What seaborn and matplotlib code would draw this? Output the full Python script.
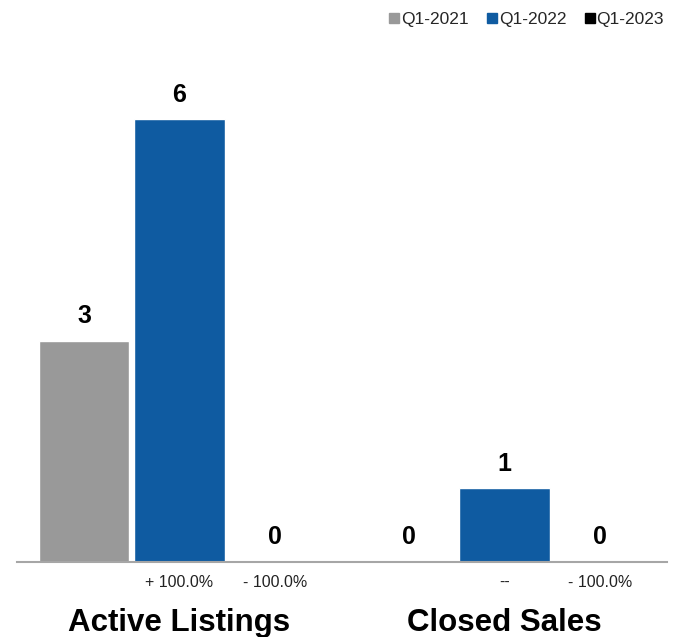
import matplotlib
matplotlib.use("Agg")
import matplotlib.pyplot as plt
import seaborn as sns
import pandas as pd
from matplotlib.lines import Line2D

# Quarterly counts per metric
categories = ["Active Listings", "Closed Sales"]
periods = ["Q1-2021", "Q1-2022", "Q1-2023"]
q1_2021 = [3, 0]
q1_2022 = [6, 1]
q1_2023 = [0, 0]
# Year-over-year change labels shown under the later periods
change_2022 = ["+ 100.0%", "--"]
change_2023 = ["- 100.0%", "- 100.0%"]

colors = ["#999999", "#0F5BA1", "#000000"]

rows = []
for period, vals in zip(periods, [q1_2021, q1_2022, q1_2023]):
    for cat, v in zip(categories, vals):
        rows.append({"category": cat, "period": period, "value": v})
df = pd.DataFrame(rows)

sns.set_theme(style="white")
plt.rcParams["font.family"] = ["Liberation Sans", "DejaVu Sans"]

fig = plt.figure(figsize=(6.83, 6.37), dpi=100)
ax = fig.add_axes([17 / 683, 75 / 637, 650 / 683, 522 / 637])

sns.barplot(data=df, x="category", y="value", hue="period", order=categories,
            hue_order=periods, palette=colors, width=0.88, gap=0.05,
            saturation=1, legend=False, ax=ax)

ax.set_xlim(-0.5, 1.5)
ax.set_ylim(0, 7.07)

for cont in ax.containers:
    ax.bar_label(cont, labels=[f"{int(b.get_height())}" for b in cont],
                 padding=9, fontsize=18, fontweight="bold", color="black")

# Change labels under the Q1-2022 and Q1-2023 bars
for cont, texts in zip(ax.containers[1:], [change_2022, change_2023]):
    for bar, t in zip(cont, texts):
        xc = bar.get_x() + bar.get_width() / 2
        ax.annotate(t, xy=(xc, 0), xycoords=("data", "axes fraction"),
                    xytext=(0, -15), textcoords="offset points",
                    ha="center", va="center", fontsize=11.5, color="#222222")

sns.despine(ax=ax, left=True)
ax.spines["bottom"].set_color("#a6a6a6")
ax.spines["bottom"].set_linewidth(1.5)
ax.set_yticks([])
ax.set_xlabel("")
ax.set_ylabel("")
ax.tick_params(axis="x", length=0, pad=33)
for lbl in ax.get_xticklabels():
    lbl.set_fontsize(22.5)
    lbl.set_fontweight("bold")
    lbl.set_color("black")

handles = [Line2D([0], [0], marker="s", color="none", markerfacecolor=c,
                  markeredgecolor=c, markersize=7) for c in colors]
fig.legend(handles, periods, loc="upper right", bbox_to_anchor=(0.99, 1.0),
           ncol=3, frameon=False, fontsize=12.5, handlelength=0.5,
           handletextpad=0.15, columnspacing=1.1, borderaxespad=0.3)

fig.savefig("out.png", dpi=100)
